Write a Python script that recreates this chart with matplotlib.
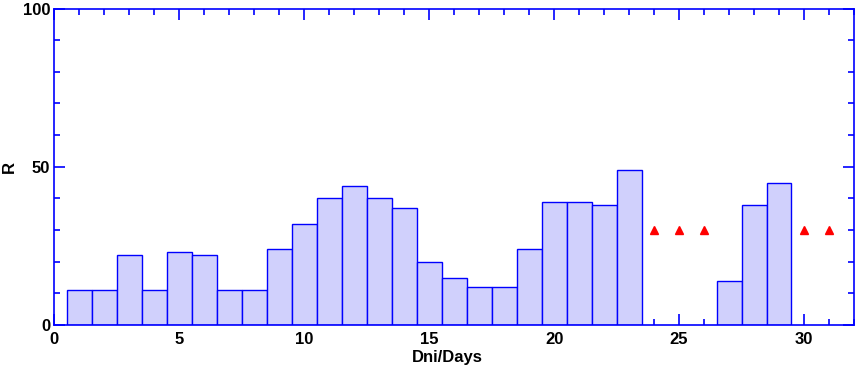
import numpy as np
import matplotlib
matplotlib.use('Agg')
import matplotlib.pyplot as plt
from matplotlib.ticker import MultipleLocator

# bar data (days with observations)
days = [1, 2, 3, 4, 5, 6, 7, 8, 9, 10, 11, 12, 13, 14, 15, 16, 17, 18, 19,
        20, 21, 22, 23, 27, 28, 29]
r_values = [11, 11, 22, 11, 23, 22, 11, 11, 24, 32, 40, 44, 40, 37, 20, 15,
            12, 12, 24, 39, 39, 38, 49, 14, 38, 45]

# days marked with red triangles
marked_days = [24, 25, 26, 30, 31]
marked_values = [30, 30, 30, 30, 30]

plt.rcParams['font.family'] = ['Liberation Sans', 'DejaVu Sans']
plt.rcParams['font.weight'] = 'bold'

fig = plt.figure(figsize=(8.55, 3.7), dpi=100)
ax = fig.add_axes([0.0635, 0.1216, 0.9353, 0.8554])

ax.bar(days, r_values, width=1.0, color='#d0d0fc', edgecolor='#0000ff',
       linewidth=1.0, zorder=2)
ax.plot(marked_days, marked_values, linestyle='none', marker='^',
        color='#ff0000', markersize=6, zorder=3)

ax.set_xlim(0, 32)
ax.set_ylim(0, 100)
ax.xaxis.set_major_locator(MultipleLocator(5))
ax.xaxis.set_minor_locator(MultipleLocator(1))
ax.yaxis.set_major_locator(MultipleLocator(50))
ax.yaxis.set_minor_locator(MultipleLocator(10))

for s in ax.spines.values():
    s.set_color('#0000ff')
    s.set_linewidth(1.2)

ax.tick_params(which='both', direction='in', color='#0000ff', width=1.2,
               top=True, right=True, labelsize=12)
ax.tick_params(which='major', length=8)
ax.tick_params(axis='x', which='major', pad=5)
ax.tick_params(axis='y', which='major', pad=3)
ax.tick_params(which='minor', length=4)
for lbl in ax.get_xticklabels() + ax.get_yticklabels():
    lbl.set_fontweight('bold')

# axis titles placed in figure coordinates
fig.text(0.523, 0.035, 'Dni/Days', fontsize=12, fontweight='bold',
         ha='center', va='center')
fig.text(0.0105, 0.5486, 'R', fontsize=12, fontweight='bold',
         ha='center', va='center', rotation=90)

plt.savefig('out.png', dpi=100)
plt.close()
